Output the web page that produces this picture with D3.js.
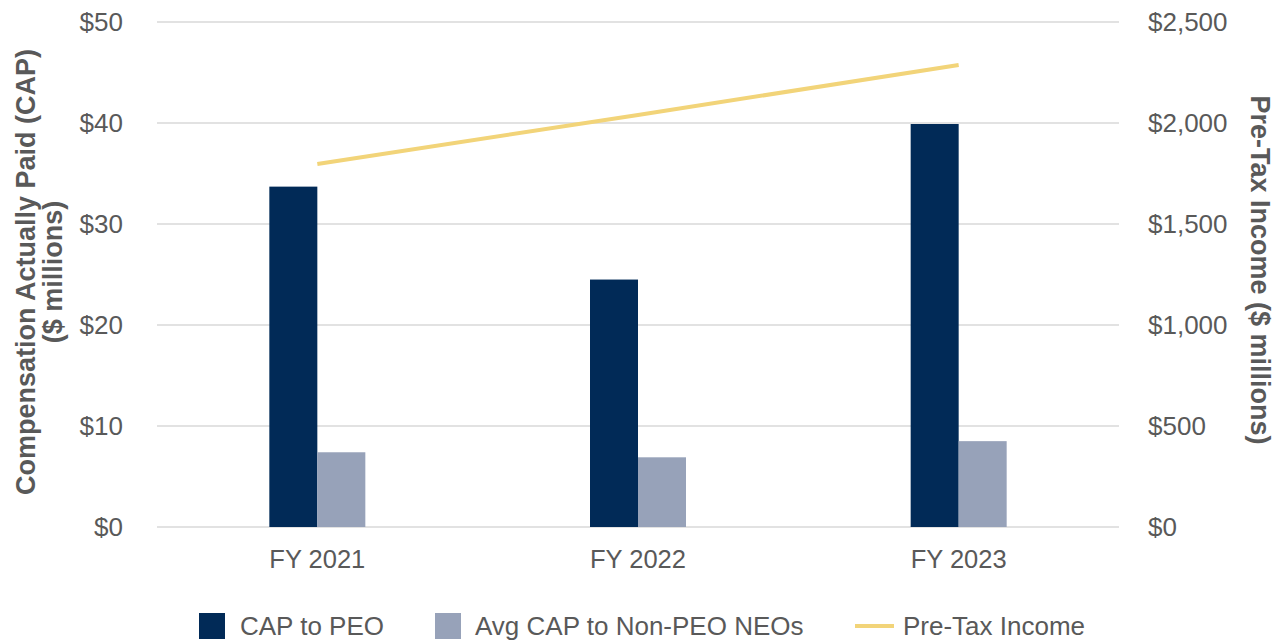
<!DOCTYPE html>
<html>
<head>
<meta charset="utf-8">
<script src="https://cdn.jsdelivr.net/npm/d3@7"></script>
<style>
  html, body { margin: 0; padding: 0; background: #ffffff; }
  svg { display: block; font-family: "Liberation Sans", Arial, Helvetica, sans-serif; }
</style>
</head>
<body>
<svg id="chart" width="1285" height="642"></svg>
<script>
// Fiscal years shown on the category axis
const categories = ["FY 2021", "FY 2022", "FY 2023"];
// Compensation actually paid, $ millions (left axis)
const capToPEO = [33.7, 24.5, 39.9];
const avgCapNonPEO = [7.4, 6.9, 8.5];
// Pre-tax income, $ millions (right axis)
const preTaxIncome = [1797, 2040, 2287];
// Axis tick values
const leftTicks = [0, 10, 20, 30, 40, 50];
const rightTicks = [0, 500, 1000, 1500, 2000, 2500];

const seriesNames = ["CAP to PEO", "Avg CAP to Non-PEO NEOs", "Pre-Tax Income"];
const colors = { peo: "#012a57", neo: "#97a2b9", line: "#f2d479" };
const textColor = "#595959";
const fontFamily = "Liberation Sans, Arial, sans-serif";

const svg = d3.select("#chart");
const plot = { left: 157, right: 1119, top: 22, bottom: 527 };

const x0 = d3.scaleBand().domain(categories).range([plot.left, plot.right]).padding(0);
const groupWidth = 96;
const x1 = d3.scaleBand().domain(["peo", "neo"]).range([0, groupWidth]).padding(0);
const yL = d3.scaleLinear().domain([0, 50]).range([plot.bottom, plot.top]);
const yR = d3.scaleLinear().domain([0, 2500]).range([plot.bottom, plot.top]);

// Horizontal gridlines
svg.append("g")
  .selectAll("line")
  .data(leftTicks)
  .join("line")
  .attr("x1", plot.left).attr("x2", plot.right)
  .attr("y1", d => yL(d)).attr("y2", d => yL(d))
  .attr("stroke", "#d9d9d9")
  .attr("stroke-width", 1.4);

// Left axis labels
const leftAxis = d3.axisLeft(yL).tickValues(leftTicks).tickSize(0).tickPadding(0)
  .tickFormat(d => "$" + d);
const gL = svg.append("g").attr("transform", `translate(123,0)`).call(leftAxis);
gL.select(".domain").remove();
gL.selectAll("text").attr("font-size", 26).attr("fill", textColor)
  .attr("font-family", fontFamily);

// Right axis labels
const rightAxis = d3.axisRight(yR).tickValues(rightTicks).tickSize(0).tickPadding(0)
  .tickFormat(d => "$" + d3.format(",")(d));
const gR = svg.append("g").attr("transform", `translate(1148,0)`).call(rightAxis);
gR.select(".domain").remove();
gR.selectAll("text").attr("font-size", 26).attr("fill", textColor)
  .attr("font-family", fontFamily);

// Category labels
const xAxis = d3.axisBottom(x0).tickSize(0).tickPadding(0);
const gX = svg.append("g").attr("transform", `translate(0,${plot.bottom})`).call(xAxis);
gX.select(".domain").remove();
gX.selectAll("text").attr("font-size", 25.5).attr("fill", textColor)
  .attr("font-family", fontFamily)
  .attr("dy", null).attr("y", 41);

// Grouped bars
const barData = categories.map((c, i) => ({ cat: c, peo: capToPEO[i], neo: avgCapNonPEO[i] }));
const groups = svg.append("g").selectAll("g")
  .data(barData)
  .join("g")
  .attr("transform", d => `translate(${x0(d.cat) + x0.bandwidth() / 2 - groupWidth / 2},0)`);
groups.selectAll("rect")
  .data(d => ["peo", "neo"].map(k => ({ key: k, value: d[k] })))
  .join("rect")
  .attr("x", d => x1(d.key))
  .attr("width", x1.bandwidth())
  .attr("y", d => yL(d.value))
  .attr("height", d => yL(0) - yL(d.value))
  .attr("fill", d => colors[d.key]);

// Pre-tax income line
const lineData = categories.map((c, i) => ({ cat: c, v: preTaxIncome[i] }));
svg.append("path")
  .datum(lineData)
  .attr("fill", "none")
  .attr("stroke", colors.line)
  .attr("stroke-width", 4)
  .attr("d", d3.line().x(d => x0(d.cat) + x0.bandwidth() / 2).y(d => yR(d.v)));

// Axis titles
const leftTitle = svg.append("text")
  .attr("transform", `translate(0,272) rotate(-90)`)
  .attr("text-anchor", "middle")
  .attr("font-size", 27).attr("font-weight", "bold").attr("fill", textColor);
leftTitle.append("tspan").attr("x", 0).attr("y", 35).text("Compensation Actually Paid (CAP)");
leftTitle.append("tspan").attr("x", 0).attr("y", 62).text("($ millions)");

svg.append("text")
  .attr("transform", `translate(1251,270) rotate(90)`)
  .attr("text-anchor", "middle")
  .attr("font-size", 27).attr("font-weight", "bold").attr("fill", textColor)
  .text("Pre-Tax Income ($ millions)");

// Legend
const legend = svg.append("g").attr("font-size", 26).attr("fill", textColor);
const legendItems = [
  { name: seriesNames[0], type: "rect", color: colors.peo, x: 199, tx: 240 },
  { name: seriesNames[1], type: "rect", color: colors.neo, x: 435, tx: 475 },
  { name: seriesNames[2], type: "line", color: colors.line, x: 855, tx: 903 }
];
legendItems.forEach(it => {
  if (it.type === "rect") {
    legend.append("rect").attr("x", it.x).attr("y", 613).attr("width", 26).attr("height", 26)
      .attr("fill", it.color);
  } else {
    legend.append("line").attr("x1", it.x).attr("x2", it.x + 39).attr("y1", 626).attr("y2", 626)
      .attr("stroke", it.color).attr("stroke-width", 4);
  }
  legend.append("text").attr("x", it.tx).attr("y", 635).text(it.name);
});
</script>
</body>
</html>
